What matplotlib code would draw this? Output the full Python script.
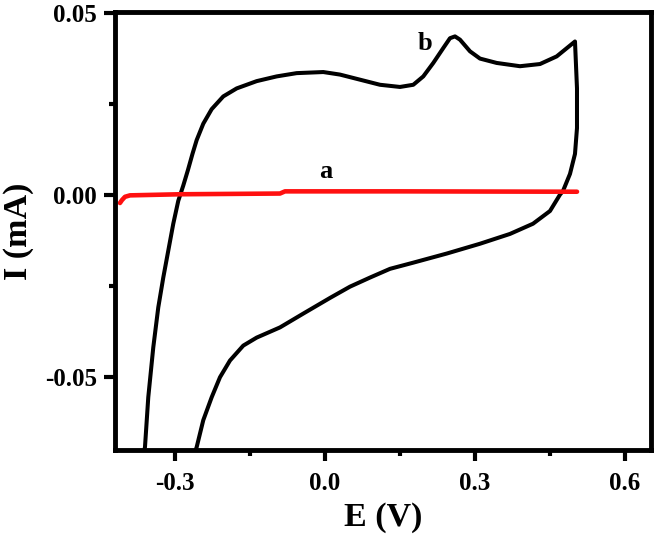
import matplotlib
matplotlib.use("Agg")
import matplotlib.pyplot as plt

# Curve b (CV loop): anodic sweep (bottom-left upwards to 0.5 V), then cathodic sweep back
b_x = [-0.362, -0.360, -0.3534, -0.3434, -0.3334, -0.3234, -0.3134, -0.3034, -0.2934, -0.2834,
       -0.2740, -0.2650, -0.2566, -0.2434, -0.2266, -0.2034, -0.1766, -0.1366, -0.0966, -0.0566,
       -0.0034, 0.030, 0.070, 0.110, 0.150, 0.1766, 0.1966, 0.2166, 0.2366, 0.250,
       0.260, 0.270, 0.290, 0.310, 0.3434, 0.390, 0.430, 0.4634, 0.500,
       0.504, 0.504, 0.500, 0.490, 0.476, 0.470, 0.450, 0.416, 0.370, 0.310,
       0.2434, 0.1766, 0.130, 0.090, 0.050, 0.010, -0.0434, -0.090, -0.1366, -0.1634,
       -0.190, -0.210, -0.2266, -0.2434, -0.2566, -0.260]
b_y = [-0.0708, -0.0694, -0.0557, -0.0420, -0.0310, -0.0228, -0.0154, -0.0080, -0.0017, 0.0025,
       0.0068, 0.0112, 0.0150, 0.0195, 0.0235, 0.0270, 0.0292, 0.0312, 0.0325, 0.0334,
       0.0337, 0.0330, 0.0316, 0.0302, 0.0296, 0.0302, 0.0325, 0.0362, 0.0403, 0.0430,
       0.0435, 0.0426, 0.0394, 0.0374, 0.0362, 0.0353, 0.0359, 0.0380, 0.0421,
       0.0292, 0.0183, 0.0112, 0.0057, 0.0010, 0.0000, -0.0045, -0.0080, -0.0108, -0.0135,
       -0.0162, -0.0187, -0.0204, -0.0228, -0.0253, -0.0284, -0.0327, -0.0365, -0.0393, -0.0415,
       -0.0456, -0.0502, -0.0557, -0.0620, -0.0694, -0.0708]

# Curve a (red, nearly flat)
a_x = [-0.410, -0.406, -0.400, -0.390, -0.290, -0.090, -0.080, 0.150, 0.504]
a_y = [-0.0023, -0.0015, -0.0006, -0.0002, 0.0001, 0.0003, 0.0009, 0.0009, 0.0008]

x_ticks = [-0.3, 0.0, 0.3, 0.6]
y_ticks = [-0.05, 0.00, 0.05]
x_tick_labels = ["-0.3", "0.0", "0.3", "0.6"]
y_tick_labels = ["-0.05", "0.00", "0.05"]

plt.rcParams['font.family'] = ['Liberation Serif', 'DejaVu Serif']
plt.rcParams['font.weight'] = 'bold'

fig = plt.figure(figsize=(6.54, 5.34), dpi=100)
ax = fig.add_axes([0.1758, 0.1573, 0.8196, 0.8202])

ax.plot(b_x, b_y, color='black', lw=2.9, solid_joinstyle='round', solid_capstyle='round')
ax.plot(a_x, a_y, color='#ff1010', lw=3.3, solid_joinstyle='round', solid_capstyle='round')

ax.text(0.20, 0.0415, "b", fontsize=19, fontweight='bold', ha='center', va='center')
ax.text(0.002, 0.0063, "a", fontsize=19, fontweight='bold', ha='center', va='center')

ax.set_xlim(-0.42, 0.652)
ax.set_ylim(-0.0702, 0.0502)

ax.set_xticks(x_ticks)
ax.set_xticklabels(x_tick_labels)
ax.set_yticks(y_ticks)
ax.set_yticklabels(y_tick_labels)
ax.set_xticks([-0.15, 0.15, 0.45], minor=True)
ax.set_yticks([-0.025, 0.025], minor=True)

ax.tick_params(which='major', direction='out', length=8, width=3.0, labelsize=18, pad=5)
ax.tick_params(axis='x', which='major', pad=8)
ax.tick_params(which='minor', direction='out', length=4, width=3.0)
for lab in ax.get_xticklabels() + ax.get_yticklabels():
    lab.set_fontweight('bold')

for s in ax.spines.values():
    s.set_linewidth(3.5)

ax.set_xlabel("E (V)", fontsize=24.5, fontweight='bold', labelpad=5)
ax.set_ylabel("I (mA)", fontsize=24.5, fontweight='bold', labelpad=8)

fig.savefig("out.png", dpi=100)
